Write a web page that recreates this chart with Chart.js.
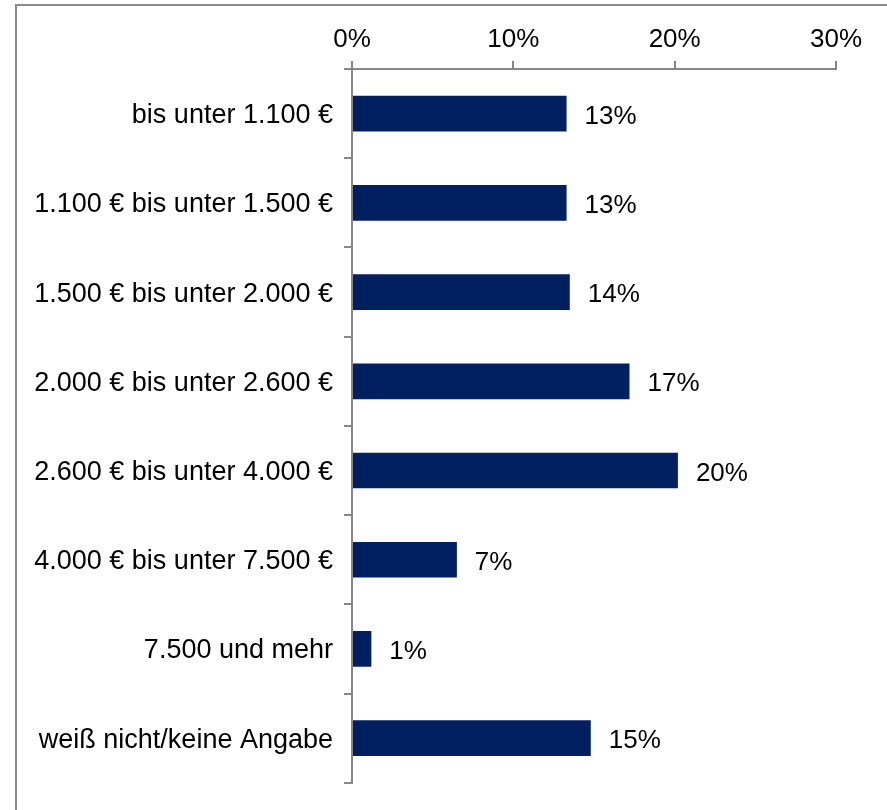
<!DOCTYPE html>
<html>
<head>
<meta charset="utf-8">
<script src="https://cdn.jsdelivr.net/npm/chart.js@4"></script>
<style>
    body { margin: 0; background: #ffffff; }
</style>
</head>
<body>
<canvas id="chart" width="887" height="810"></canvas>
<script>
const categories = [
    "bis unter 1.100 €",
    "1.100 € bis unter 1.500 €",
    "1.500 € bis unter 2.000 €",
    "2.000 € bis unter 2.600 €",
    "2.600 € bis unter 4.000 €",
    "4.000 € bis unter 7.500 €",
    "7.500 und mehr",
    "weiß nicht/keine Angabe"
]
const shares = [13.3, 13.3, 13.5, 17.2, 20.2, 6.5, 1.2, 14.8]
const valueLabels = ["13%", "13%", "14%", "17%", "20%", "7%", "1%", "15%"]
const xTicks = [0, 10, 20, 30]

const container = document.getElementById("chart")
const fontFamily = "'Liberation Sans', Arial, sans-serif"
const axisColor = "#868686"

// frame around the whole picture
const framePlugin = {
    id: "frame",
    beforeDraw(chart) {
        const ctx = chart.ctx
        ctx.save()
        ctx.fillStyle = "#ffffff"
        ctx.fillRect(0, 0, chart.width, chart.height)
        ctx.strokeStyle = "#8a8a8a"
        ctx.lineWidth = 2
        ctx.strokeRect(16, 5, 1000, 1000)
        ctx.restore()
    }
}

// value labels right of each bar
const valueLabelPlugin = {
    id: "valueLabels",
    afterDatasetsDraw(chart) {
        const ctx = chart.ctx
        const meta = chart.getDatasetMeta(0)
        ctx.save()
        ctx.font = "26px " + fontFamily
        ctx.fillStyle = "#000000"
        ctx.textBaseline = "middle"
        ctx.textAlign = "left"
        meta.data.forEach((bar, i) => {
            ctx.fillText(valueLabels[i], bar.x + 18, bar.y + 3)
        })
        ctx.restore()
    }
}

const data = {
    labels : categories,
    datasets : [
        {
            data : shares,
            backgroundColor : "#022060",
            borderWidth : 0,
            categoryPercentage : 1,
            barPercentage : 0.4
        }
    ]
}

const config = {
    type : "bar",
    data : data,
    plugins : [framePlugin, valueLabelPlugin],
    options : {
        indexAxis : "y",
        responsive : false,
        animation : false,
        layout : {
            padding : { left : 0, top : 0, right : 51, bottom : 24 }
        },
        scales : {
            x : {
                position : "top",
                min : 0,
                max : 30,
                afterFit : scale => { scale.height = 69 },
                afterBuildTicks : scale => {
                    scale.ticks = xTicks.map(v => ({ value : v }))
                },
                grid : {
                    drawOnChartArea : false,
                    drawTicks : true,
                    tickLength : 8,
                    color : axisColor,
                    lineWidth : 2
                },
                border : { display : true, color : axisColor, width : 2 },
                ticks : {
                    color : "#000000",
                    padding : 6,
                    font : { family : fontFamily, size : 26 },
                    callback : v => v + "%"
                }
            },
            y : {
                afterFit : scale => { scale.width = 352 },
                grid : {
                    offset : true,
                    drawOnChartArea : false,
                    drawTicks : true,
                    tickLength : 8,
                    color : axisColor,
                    lineWidth : 2
                },
                border : { display : true, color : axisColor, width : 2 },
                ticks : {
                    color : "#000000",
                    padding : 11,
                    labelOffset : 2,
                    font : { family : fontFamily, size : 27 }
                }
            }
        },
        plugins : {
            legend : { display : false },
            tooltip : { enabled : false },
            title : { display : false }
        }
    }
}

const myChart = new Chart(container, config)
</script>
</body>
</html>
